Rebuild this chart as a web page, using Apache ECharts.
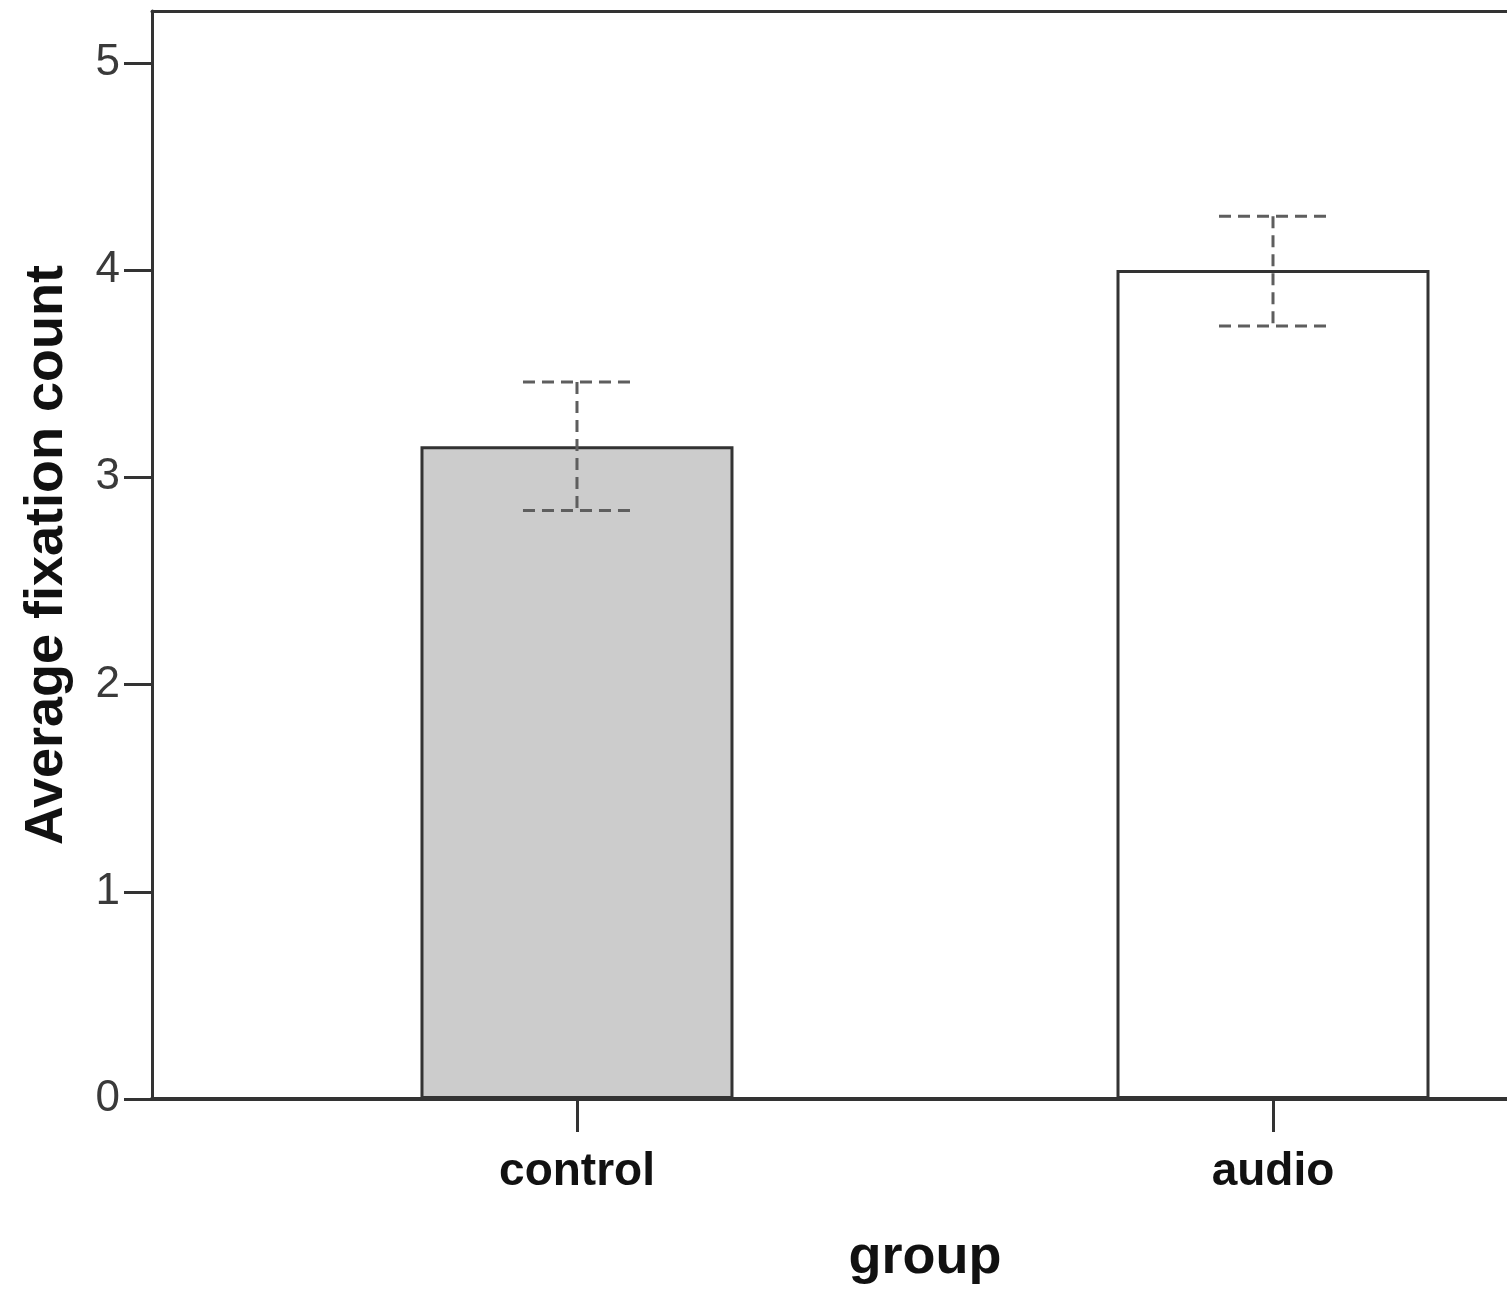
<!DOCTYPE html>
<html>
<head>
<meta charset="utf-8">
<script src="https://cdn.jsdelivr.net/npm/echarts@6/dist/echarts.min.js"></script>
<style>
html,body{margin:0;padding:0;background:#fff;}
#chart{width:1507px;height:1290px;}
</style>
</head>
<body>
<div id="chart"></div>
<script>
// Data
const categories = ['control', 'audio'];
const means = [3.15, 4.00];
const errLow = [2.84, 3.73];
const errHigh = [3.46, 4.26];
const yTicks = [0, 1, 2, 3, 4, 5];
const barColors = ['#cccccc', '#ffffff'];

const chart = echarts.init(document.getElementById('chart'));
const FONT = '"Liberation Sans", Arial, sans-serif';

const barData = means.map((v, i) => ({
  value: [i, v],
  itemStyle: { color: barColors[i], borderColor: '#333', borderWidth: 3 }
}));
const errData = categories.map((c, i) => [i, errLow[i], errHigh[i]]);

const X_MIN = -0.6106, X_MAX = 1.3362;

chart.setOption({
  animation: false,
  backgroundColor: '#fff',
  grid: { left: 152, top: 11, right: 0, bottom: 191, show: false },
  graphic: [{
    type: 'text', left: 925, top: 1258, z: 10,
    style: {
      text: 'group', x: 0, y: 0, align: 'center', verticalAlign: 'middle',
      font: 'bold 54px ' + FONT, fill: '#111'
    },
    // center the text on (925,1258)
    x: 925, y: 1258, left: null, top: null
  }],
  xAxis: [{
    type: 'value',
    min: X_MIN, max: X_MAX,
    splitLine: { show: false },
    axisLine: { show: true, onZero: false, lineStyle: { color: '#333', width: 4 } },
    axisTick: { show: true, customValues: [0, 1], length: 33, lineStyle: { color: '#333', width: 3 } },
    axisLabel: {
      show: true, customValues: [0, 1],
      formatter: v => categories[Math.round(v)] || '',
      margin: 50, fontFamily: FONT, fontSize: 46, fontWeight: 'bold', color: '#111'
    }
  }, {
    type: 'value', position: 'top',
    min: X_MIN, max: X_MAX,
    splitLine: { show: false },
    axisLine: { show: true, onZero: false, lineStyle: { color: '#333', width: 3 } },
    axisTick: { show: false }, axisLabel: { show: false }
  }],
  yAxis: {
    type: 'value',
    min: 0, max: 5.25,
    splitLine: { show: false },
    axisLine: { show: true, onZero: false, lineStyle: { color: '#333', width: 3 } },
    axisTick: { show: true, customValues: yTicks, length: 28, lineStyle: { color: '#333', width: 3 } },
    axisLabel: {
      show: true, customValues: yTicks, margin: 32,
      fontFamily: FONT, fontSize: 44, color: '#3a3a3a'
    },
    name: 'Average fixation count', nameLocation: 'middle', nameGap: 78, nameRotate: 90,
    nameTextStyle: { fontFamily: FONT, fontSize: 54, fontWeight: 'bold', color: '#111' }
  },
  series: [
    {
      type: 'bar',
      data: barData,
      barWidth: 313,
      z: 2
    },
    {
      type: 'custom',
      z: 5,
      data: errData,
      renderItem: function (params, api) {
        const x = api.value(0);
        const lo = api.coord([x, api.value(1)]);
        const hi = api.coord([x, api.value(2)]);
        const half = 54;
        const style = { stroke: '#5e5e5e', lineWidth: 3, lineDash: [12, 7] };
        return {
          type: 'group',
          children: [
            { type: 'line', shape: { x1: hi[0], y1: hi[1], x2: lo[0], y2: lo[1] }, style: style },
            { type: 'line', shape: { x1: hi[0] - half, y1: hi[1], x2: hi[0] + half, y2: hi[1] }, style: style },
            { type: 'line', shape: { x1: lo[0] - half, y1: lo[1], x2: lo[0] + half, y2: lo[1] }, style: style }
          ]
        };
      }
    }
  ]
});
</script>
</body>
</html>
